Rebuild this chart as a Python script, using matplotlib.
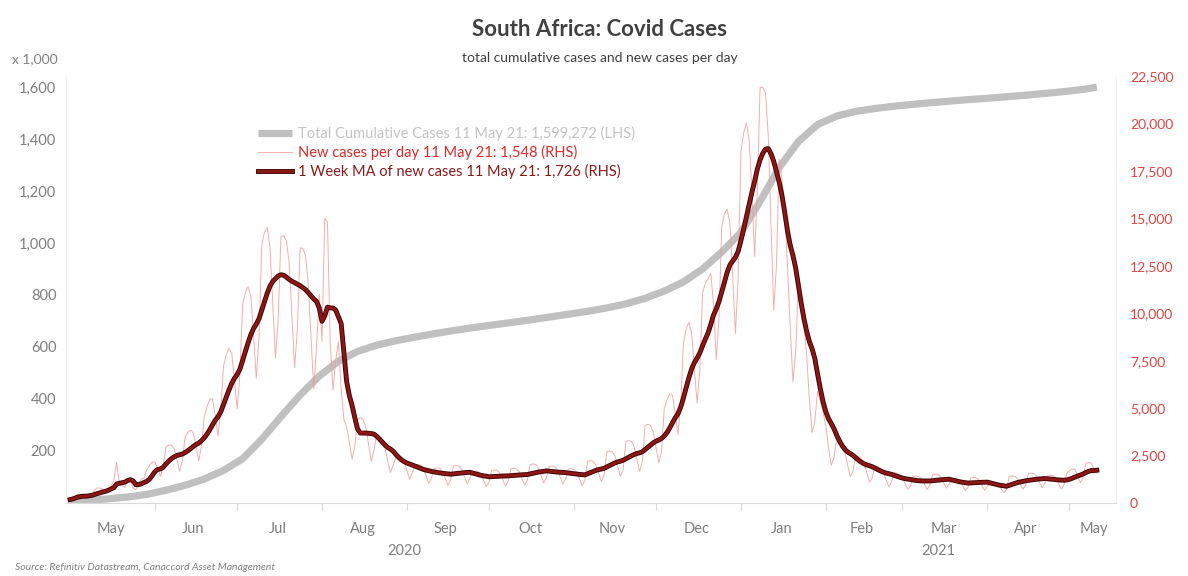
import matplotlib
matplotlib.use('Agg')
import matplotlib.pyplot as plt
import matplotlib.patheffects as pe
from matplotlib.ticker import FuncFormatter
import pandas as pd

plt.rcParams['font.family'] = ['Lato', 'DejaVu Sans']

# new cases per day, 1 May 2020 - 11 May 2021 (one row per week)
new_cases = [
    180, 250, 380, 460, 450, 440, 360,
    330, 420, 700, 800, 780, 720, 590,
    700, 900, 1200, 2150, 1000, 900, 850,
    1300, 1200, 800, 700, 1000, 1250, 1310,
    1740, 1990, 2160, 2150, 1810, 1400, 1940,
    2940, 3050, 3060, 2860, 2280, 1670, 2200,
    3480, 3720, 3840, 3700, 2970, 2230, 3030,
    4560, 5060, 5460, 5500, 4640, 3530, 4800,
    7200, 7810, 8160, 7920, 6540, 4960, 6720,
    10440, 11100, 11400, 10890, 8860, 6570, 8720,
    13560, 14270, 14520, 13480, 10580, 7630, 9680,
    14040, 14090, 13800, 12650, 9890, 7130, 9120,
    13440, 13420, 13020, 11550, 8690, 6010, 8240,
    11000, 8500, 15000, 14800, 8430, 5950, 7520,
    8500, 6000, 4400, 4000, 3200, 2300, 3000,
    4400, 4500, 4400, 4000, 3100, 2200, 2800,
    3600, 3500, 3300, 2900, 2200, 1600, 2000,
    2400, 2440, 2400, 2200, 1720, 1240, 1600,
    1990, 2030, 1990, 1830, 1430, 1030, 1330,
    1820, 1850, 1820, 1670, 1310, 940, 1220,
    1940, 1980, 1940, 1780, 1390, 1000, 1300,
    1660, 1680, 1660, 1520, 1190, 860, 1100,
    1720, 1740, 1720, 1570, 1230, 890, 1140,
    1800, 1830, 1800, 1650, 1290, 930, 1200,
    2030, 2060, 2030, 1860, 1450, 1050, 1350,
    1920, 1950, 1920, 1760, 1380, 990, 1280,
    1780, 1810, 1780, 1630, 1270, 920, 1180,
    2200, 2230, 2200, 2010, 1570, 1130, 1460,
    2700, 2750, 2700, 2480, 1940, 1400, 1800,
    3240, 3290, 3240, 2970, 2320, 1670, 2160,
    4080, 4150, 4080, 3740, 2920, 2110, 2720,
    4980, 5430, 5760, 5670, 4730, 3620, 5120,
    8400, 9150, 9530, 8910, 7050, 5270, 7040,
    11040, 11590, 11800, 12100, 10490, 7560, 9720,
    14570, 15250, 15480, 14740, 11940, 8930, 11920,
    18480, 19500, 20040, 19140, 16500, 13000, 16500,
    21900, 21900, 21600, 19320, 14620, 10170, 12560,
    18110, 17080, 15360, 12550, 9290, 6390, 7920,
    11600, 10740, 9600, 7810, 5500, 3720, 4320,
    5880, 5370, 4800, 4070, 2920, 1980, 2400,
    3420, 3290, 3060, 2660, 1990, 1380, 1720,
    2500, 2450, 2330, 2070, 1570, 1090, 1360,
    1960, 1930, 1840, 1630, 1240, 870, 1100,
    1600, 1570, 1500, 1330, 1010, 720, 930,
    1390, 1420, 1390, 1280, 1000, 720, 930,
    1500, 1530, 1500, 1380, 1080, 780, 1000,
    1260, 1280, 1260, 1160, 900, 650, 840,
    1320, 1340, 1320, 1210, 950, 680, 880,
    1060, 1070, 1060, 970, 760, 550, 700,
    1400, 1430, 1400, 1290, 1010, 730, 940,
    1550, 1570, 1550, 1420, 1110, 800, 1030,
    1440, 1460, 1440, 1320, 1030, 740, 960,
    1560, 1710, 1800, 1760, 1440, 1070, 1380,
    2100, 2130, 2100, 1754, 1548,
]

# total cumulative cases ('000), weekly readings plus the last day
cumulative = [
    5, 10, 16, 23, 33, 49, 68, 92, 125, 170,
    245, 332, 415, 488, 545, 583, 607, 624, 638, 651,
    663, 674, 684, 694, 704, 715, 726, 737, 750, 766,
    787, 815, 850, 900, 965, 1040, 1160, 1290, 1390, 1455,
    1488, 1506, 1517, 1526, 1533, 1540, 1546, 1552, 1557, 1563,
    1569, 1576, 1583, 1592, 1599.272,
]

month_names = ['May', 'Jun', 'Jul', 'Aug', 'Sep', 'Oct', 'Nov', 'Dec',
               'Jan', 'Feb', 'Mar', 'Apr', 'May']
month_label_dates = ['2020-05-16', '2020-06-15', '2020-07-16', '2020-08-16',
                     '2020-09-15', '2020-10-16', '2020-11-15', '2020-12-16',
                     '2021-01-16', '2021-02-14', '2021-03-16', '2021-04-15',
                     '2021-05-10']
years = ['2020', '2021']
year_label_dates = ['2020-08-31', '2021-03-14']

dates = pd.date_range('2020-05-01', periods=len(new_cases), freq='D')
ma7 = pd.Series(new_cases, index=dates).rolling(7, min_periods=1).mean()
cum_dates = list(dates[::7]) + [dates[-1]]

fig = plt.figure(figsize=(11.88, 5.76), dpi=100)
ax = fig.add_axes([66 / 1188, 1 - 503 / 576, 1050 / 1188, 427 / 576])
ax2 = ax.twinx()

# LHS: cumulative cases
l1, = ax.plot(cum_dates, cumulative, color='#c0c0c0', lw=5.2, solid_capstyle='butt')
# RHS: daily cases and weekly moving average
l2, = ax2.plot(dates, new_cases, color='#f19a9a', lw=0.7, alpha=0.8)
l3, = ax2.plot(dates, ma7.values, color='#8c1515', lw=2.2,
               path_effects=[pe.Stroke(linewidth=3.5, foreground='#3a0404'), pe.Normal()])

ax.set_xlim(pd.Timestamp('2020-05-01') - pd.Timedelta(days=1.5),
            pd.Timestamp('2020-05-01') + pd.Timedelta(days=382))
ax.set_ylim(0, 1642)
ax2.set_ylim(0, 22500)

ax.set_yticks(range(200, 1601, 200))
ax.yaxis.set_major_formatter(FuncFormatter(lambda v, p: f'{v:,.0f}'))
ax.tick_params(axis='y', length=0, pad=7, labelsize=10.5, labelcolor='#7f7f7f')

ax2.set_yticks(range(0, 22501, 2500))
ax2.yaxis.set_major_formatter(FuncFormatter(lambda v, p: f'{v:,.0f}'))
ax2.tick_params(axis='y', length=0, pad=10, labelsize=10, labelcolor='#e04444')

ax.set_xticks(pd.date_range('2020-06-01', '2021-05-01', freq='MS'))
ax.set_xticks(pd.to_datetime(month_label_dates), minor=True)
ax.set_xticklabels(month_names, minor=True)
ax.tick_params(axis='x', which='major', length=5, color='#d9d9d9', labelbottom=False)
ax.tick_params(axis='x', which='minor', length=0, pad=14, labelsize=10.5, labelcolor='#7f7f7f')

for yr, d in zip(years, year_label_dates):
    ax.text(pd.Timestamp(d), -0.112, yr, transform=ax.get_xaxis_transform(),
            ha='center', va='center', fontsize=10.5, color='#7f7f7f')

for a in (ax, ax2):
    for s in a.spines.values():
        s.set_visible(False)
ax.spines['bottom'].set_visible(True)
ax.spines['bottom'].set_color('#d9d9d9')
for s in ('left', 'right'):
    ax.spines[s].set_visible(True)
    ax.spines[s].set_color('#f3f3f3')

labels = ['Total Cumulative Cases 11 May 21: 1,599,272 (LHS)',
          'New cases per day 11 May 21: 1,548 (RHS)',
          '1 Week MA of new cases 11 May 21: 1,726 (RHS)']
ax2.legend([l1, l2, l3], labels, loc='upper left', bbox_to_anchor=(0.183, 0.882),
           frameon=False, fontsize=10.5, handlelength=2.3, handletextpad=0.4,
           labelspacing=0.27, borderpad=0, borderaxespad=0,
           labelcolor=['#c4c4c4', '#e02b2b', '#8b1a1a'])

fig.text(0.505, 1 - 30 / 576, 'South Africa: Covid Cases', ha='center', va='center',
         fontsize=16, fontweight='bold', color='#404040')
fig.text(0.505, 1 - 58 / 576, 'total cumulative cases and new cases per day',
         ha='center', va='center', fontsize=10, color='#404040')
fig.text(35 / 1188, 1 - 59 / 576, 'x 1,000', ha='center', va='center',
         fontsize=10, color='#7f7f7f')
fig.text(15 / 1188, 1 - 568 / 576, 'Source: Refinitiv Datastream, Canaccord Asset Management',
         ha='left', va='center', fontsize=7.5, fontstyle='italic', color='#7f7f7f')

fig.savefig('out.png', dpi=100)
